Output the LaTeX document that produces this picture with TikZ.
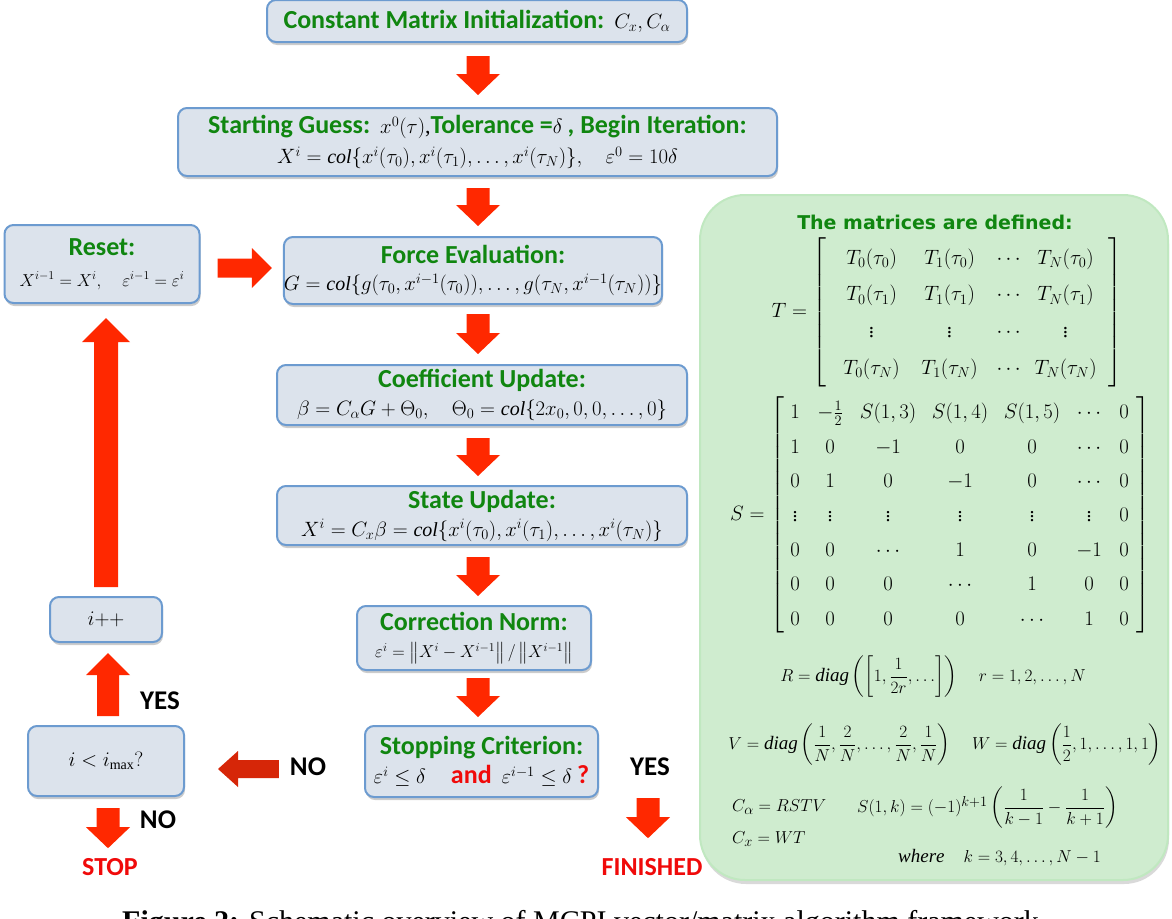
\documentclass[tikz,border=0pt]{standalone}
\usepackage{amsmath}
\usepackage{array}
\usepackage{fontspec}
\setmainfont{Liberation Serif}
\newfontfamily\hdfont{Carlito}
\newfontfamily\dvfont{DejaVu Sans}
\usetikzlibrary{calc,shadows}
\definecolor{boxfill}{RGB}{220,227,236}
\definecolor{boxedge}{RGB}{108,155,208}
\definecolor{hdgreen}{RGB}{16,134,16}
\definecolor{arrred}{RGB}{255,40,0}
\definecolor{arrdark}{RGB}{214,38,8}
\definecolor{txtred}{RGB}{240,10,10}
\definecolor{panelfill}{RGB}{207,236,207}
\definecolor{paneledge}{RGB}{192,232,192}
\newcommand\hdtxt[1]{{\hdfont\bfseries\fontsize{26}{30}\selectfont\color{hdgreen}#1}}
\newcommand\redtxt[1]{{\hdfont\bfseries\fontsize{26}{30}\selectfont\color{txtred}#1}}
\newcommand\mfs{\fontsize{20}{29}\selectfont}
\newcommand\sfs{\fontsize{18}{28}\selectfont}
\newcommand\pfs{\fontsize{19}{24}\selectfont}
\newcommand\svd{{\scriptstyle\vdots}}
% block arrow from tail #2 to tip #3
\newcommand\blkarrow[6]{%
  \coordinate (bah) at ($(#3)!#6!(#2)$);
  \fill[#1] ($(#2)!#4!90:(#3)$) -- ($(bah)!#4!90:(#3)$) -- ($(bah)!#5!90:(#3)$) -- (#3)
     -- ($(bah)!#5!-90:(#3)$) -- ($(bah)!#4!-90:(#3)$) -- ($(#2)!#4!-90:(#3)$) -- cycle;
}
\begin{document}
\begin{tikzpicture}[x=1pt,y=-1pt,
  flow/.style={draw=boxedge, line width=2pt, fill=boxfill, rounded corners=9pt, align=center,
    inner sep=0pt, font=\mfs,
    drop shadow={shadow xshift=1pt, shadow yshift=-3pt, fill=black, opacity=0.2}},
  panelbox/.style={draw=paneledge, line width=2pt, fill=panelfill, rounded corners=45pt,
    drop shadow={shadow xshift=1pt, shadow yshift=-4pt, fill=black, opacity=0.15}},
  lbl/.style={font=\hdfont\bfseries\fontsize{27}{30}\selectfont, inner sep=0pt},
  endlbl/.style={font=\hdfont\bfseries\fontsize{26}{30}\selectfont, text=txtred, inner sep=0pt},
  pm/.style={inner sep=0pt, font=\pfs}
]
\useasboundingbox (0,0) rectangle (1172,918);
\fill[white] (0,0) rectangle (1172,918);

% ---------- main column ----------
\node[flow, minimum width=420pt, minimum height=42pt] (b1) at (477,21)
  {\hdtxt{Constant Matrix Initialization:}\ \ $C_x, C_\alpha$};
\node[flow, minimum width=599pt, minimum height=68pt] (b2) at (477.5,142)
  {\hdtxt{Starting Guess:}\ \ {\fontsize{22}{26}\selectfont$x^0(\tau)$,}\hdtxt{Tolerance =}{\fontsize{22}{26}\selectfont$\delta$}\ \hdtxt{, Begin Iteration:}\\[1pt]
   $X^i = \mathit{col}\{x^i(\tau_0), x^i(\tau_1),\ldots,x^i(\tau_N)\},\quad \varepsilon^0 = 10\delta$};
\node[flow, minimum width=195pt, minimum height=78pt] (reset) at (102,264)
  {\hdtxt{Reset:}\\[2pt] {\sfs$X^{i-1} = X^i,\quad \varepsilon^{i-1}=\varepsilon^i$}};
\node[flow, minimum width=370pt, minimum height=67pt] (force) at (473,270.5)
  {\hdtxt{Force Evaluation:}\\[-2pt] $G = \mathit{col}\{g(\tau_0,x^{i-1}(\tau_0)),\ldots,g(\tau_N,x^{i-1}(\tau_N))\}$};
\node[flow, minimum width=410pt, minimum height=60pt] (coef) at (482,395)
  {\hdtxt{Coefficient Update:}\\[-1pt] $\beta = C_\alpha G + \Theta_0,\quad \Theta_0 = \mathit{col}\{2x_0, 0, 0,\ldots, 0\}$};
\node[flow, minimum width=410pt, minimum height=59pt] (state) at (482,515.5)
  {\hdtxt{State Update:}\\[-1pt] $X^i = C_x\beta = \mathit{col}\{x^i(\tau_0), x^i(\tau_1),\ldots, x^i(\tau_N)\}$};
\node[flow, minimum width=234pt, minimum height=64pt] (corr) at (474,638)
  {\hdtxt{Correction Norm:}\\[-2pt] {\fontsize{17}{28}\selectfont$\varepsilon^{i} = \left\|X^{i} - X^{i-1}\right\| / \left\|X^{i-1}\right\|$}};
\node[flow, minimum width=233pt, minimum height=71pt] (stop) at (481.5,761.5)
  {\hdtxt{Stopping Criterion:}\\ $\varepsilon^{i}\le\delta$\quad\ \redtxt{and}\ \ $\varepsilon^{i-1}\le\delta$\ \redtxt{?}};
\node[flow, minimum width=112pt, minimum height=45pt] (ipp) at (106,619.5) {$i{+}{+}$};
\node[flow, minimum width=156pt, minimum height=70pt] (imax) at (106,761) {$i < i_{\max}?$};

% ---------- labels ----------
\node[lbl] (yes1) at (650,767) {YES};
\node[lbl] (no1) at (308,767) {NO};
\node[lbl] (yes2) at (160,701) {YES};
\node[lbl] (no2) at (158,820) {NO};
\node[endlbl] (stoplbl) at (110,867) {STOP};
\node[endlbl] (finished) at (652,867) {FINISHED};

% ---------- block arrows ----------
\coordinate (a1t) at ($(b1.south)+(1,13)$);
\coordinate (a1h) at ($(b1.south |- b2.north)+(1,-12)$);
\blkarrow{arrred}{a1t}{a1h}{11.5pt}{22pt}{21pt}
\coordinate (a2t) at ($(b1.south |- b2.south)+(1,11)$);
\coordinate (a2h) at ($(b1.south |- force.north)+(1,-10)$);
\blkarrow{arrred}{a2t}{a2h}{11.5pt}{22pt}{21pt}
\coordinate (a3t) at ($(b1.south |- force.south)+(1,9)$);
\coordinate (a3h) at ($(b1.south |- coef.north)+(1,-10)$);
\blkarrow{arrred}{a3t}{a3h}{11.5pt}{22pt}{21pt}
\coordinate (a4t) at ($(b1.south |- coef.south)+(1,12)$);
\coordinate (a4h) at ($(b1.south |- state.north)+(1,-9)$);
\blkarrow{arrred}{a4t}{a4h}{11.5pt}{22pt}{21pt}
\coordinate (a5t) at ($(b1.south |- state.south)+(1,11)$);
\coordinate (a5h) at ($(b1.south |- corr.north)+(1,-9)$);
\blkarrow{arrred}{a5t}{a5h}{11.5pt}{22pt}{21pt}
\coordinate (a6t) at ($(b1.south |- corr.south)+(1,7)$);
\coordinate (a6h) at ($(b1.south |- stop.north)+(1,-8)$);
\blkarrow{arrred}{a6t}{a6h}{11.5pt}{22pt}{21pt}
% to FINISHED
\coordinate (aft) at ($(yes1 |- stop.south)+(-2,0)$);
\coordinate (afh) at ($(finished.north)+(-4,-20)$);
\blkarrow{arrred}{aft}{afh}{11.5pt}{22pt}{21pt}
% NO: stopping criterion -> i < imax
\coordinate (ant) at ($(no1.west)+(-11,2)$);
\coordinate (anh) at ($(imax.east |- ant)+(33,0)$);
\blkarrow{arrdark}{ant}{anh}{9pt}{18pt}{20pt}
% YES: imax -> i++
\coordinate (aut) at ($(imax.north)+(2,-9)$);
\coordinate (auh) at ($(ipp.south)+(2,10)$);
\blkarrow{arrred}{aut}{auh}{11pt}{22pt}{22pt}
% NO: imax -> STOP
\coordinate (adt) at ($(imax.south)+(2,11)$);
\coordinate (adh) at ($(stoplbl.north)+(-2,-10)$);
\blkarrow{arrred}{adt}{adh}{11.5pt}{22pt}{21pt}
% i++ -> Reset
\coordinate (abt) at ($(ipp.north)+(0,-9)$);
\coordinate (abh) at ($(reset.south)+(4,14)$);
\blkarrow{arrred}{abt}{abh}{12pt}{24pt}{24pt}
% Reset -> Force
\coordinate (art) at ($(reset.east)+(17,4)$);
\coordinate (arh) at ($(force.west)+(-11,-2.5)$);
\blkarrow{arrred}{art}{arh}{9.5pt}{20pt}{20pt}

% ---------- right panel ----------
\node[panelbox, minimum width=468pt, minimum height=685pt] (panel) at (934,537.5) {};
\node[pm] (ptitle) at (935,222)
  {\dvfont\bfseries\fontsize{19}{22}\selectfont\color{hdgreen}The matrices are defined:};
\node[pm] (Tmat) at (947,312) {\fontsize{21}{26}\selectfont\def\arraystretch{1.42}\arraycolsep=0pt$T = \left[\begin{array}{@{\hspace{6pt}}w{c}{78pt}w{c}{78pt}w{c}{40pt}w{c}{74pt}@{\hspace{6pt}}}
  T_0(\tau_0) & T_1(\tau_0) & \cdots & T_N(\tau_0)\\
  T_0(\tau_1) & T_1(\tau_1) & \cdots & T_N(\tau_1)\\
  \svd & \svd & \cdots & \svd\\
  T_0(\tau_N) & T_1(\tau_N) & \cdots & T_N(\tau_N)
  \end{array}\right]$};
\node[pm] (Smat) at (940,515) {\fontsize{20}{25}\selectfont\def\arraystretch{1.376}\arraycolsep=0pt$S = \left[\begin{array}{@{}w{c}{22pt}w{c}{48pt}w{c}{68pt}w{c}{76pt}w{c}{68pt}w{c}{46pt}w{c}{24pt}@{}}
  1 & -\tfrac12 & S(1,3) & S(1,4) & S(1,5) & \cdots & 0\\
  1 & 0 & -1 & 0 & 0 & \cdots & 0\\
  0 & 1 & 0 & -1 & 0 & \cdots & 0\\
  \svd & \svd & \svd & \svd & \svd & \svd & 0\\
  0 & 0 & \cdots & 1 & 0 & -1 & 0\\
  0 & 0 & 0 & \cdots & 1 & 0 & 0\\
  0 & 0 & 0 & 0 & \cdots & 1 & 0
  \end{array}\right]$};
\node[pm] (Rdef) at (933,677)
  {$R = \mathit{diag}\left(\left[1,\dfrac{1}{2r},\ldots\right]\right)\quad r = 1,2,\ldots,N$};
\node[pm] (Vdef) at (945,745)
  {$V = \mathit{diag}\left(\dfrac1N,\dfrac2N,\ldots,\dfrac2N,\dfrac1N\right)\quad W = \mathit{diag}\left(\dfrac12,1,\ldots,1,1\right)$};
\node[pm, anchor=west] (Ca) at (732,807) {$C_\alpha = RSTV$};
\node[pm, anchor=west] (S1k) at (857,808)
  {$S(1,k) = (-1)^{k+1}\left(\dfrac{1}{k-1}-\dfrac{1}{k+1}\right)$};
\node[pm, anchor=west] (Cx) at (732,839) {$C_x = WT$};
\node[pm, anchor=west] (where) at (898,858) {$\mathit{where}\quad k = 3,4,\ldots,N-1$};

% ---------- caption (cut by the page edge) ----------
\node[anchor=base west, inner sep=0pt, font=\fontsize{30}{34}\selectfont] (cap) at (122,931)
  {\textbf{Figure 2:} Schematic overview of MCPI vector/matrix algorithm framework.};
\end{tikzpicture}
\end{document}
